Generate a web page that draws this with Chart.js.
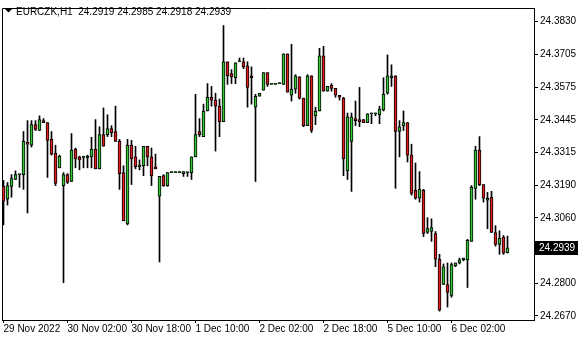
<!DOCTYPE html>
<html>
<head>
<meta charset="utf-8">
<script src="https://cdn.jsdelivr.net/npm/chart.js@4.4.0/dist/chart.umd.min.js"></script>
<style>
  html, body { margin: 0; padding: 0; background: #fff; }
  #chart { display: block; }
</style>
</head>
<body>
<canvas id="chart" width="580" height="340"></canvas>
<script>
// EURCZK H1, 127 hourly bars from 29 Nov 2022 10:00
const symbol = 'EURCZK,H1';

const opens = [
  24.3181, 24.3130, 24.3181, 24.3208, 24.3227, 24.3227, 24.3354, 24.3343, 24.3424, 24.3401,
  24.3440, 24.3432, 24.3366, 24.3312, 24.3254, 24.3184, 24.3227, 24.3200, 24.3328, 24.3297,
  24.3295, 24.3293, 24.3297, 24.3328, 24.3250, 24.3385, 24.3385, 24.3409, 24.3397, 24.3358,
  24.3235, 24.3033, 24.3343, 24.3297, 24.3258, 24.3262, 24.3339, 24.3297, 24.3258, 24.3142,
  24.3223, 24.3184, 24.3235, 24.3235, 24.3235, 24.3231, 24.3235, 24.3235, 24.3297, 24.3397,
  24.3377, 24.3478, 24.3532, 24.3521, 24.3497, 24.3436, 24.3672, 24.3625, 24.3609, 24.3672,
  24.3672, 24.3656, 24.3617, 24.3493, 24.3536, 24.3560, 24.3629, 24.3583, 24.3583, 24.3586,
  24.3583, 24.3703, 24.3540, 24.3564, 24.3613, 24.3529, 24.3420, 24.3617, 24.3459, 24.3478,
  24.3695, 24.3556, 24.3579, 24.3567, 24.3540, 24.3529, 24.3242, 24.3358, 24.3448, 24.3444,
  24.3444, 24.3432, 24.3467, 24.3467, 24.3463, 24.3482, 24.3548, 24.3609, 24.3617, 24.3397,
  24.3420, 24.3432, 24.3304, 24.3165, 24.3134, 24.3165, 24.2999, 24.3003, 24.2995, 24.2894,
  24.2794, 24.2794, 24.2751, 24.2868, 24.2879, 24.2891, 24.2891, 24.2964, 24.3173, 24.3324,
  24.3188, 24.3126, 24.3138, 24.2999, 24.2952, 24.2980, 24.2919
];
const highs = [
  24.3204, 24.3196, 24.3227, 24.3242, 24.3227, 24.3397, 24.3440, 24.3440, 24.3440, 24.3459,
  24.3448, 24.3432, 24.3397, 24.3343, 24.3304, 24.3235, 24.3231, 24.3389, 24.3332, 24.3300,
  24.3300, 24.3304, 24.3374, 24.3444, 24.3416, 24.3490, 24.3463, 24.3420, 24.3497, 24.3366,
  24.3262, 24.3366, 24.3362, 24.3339, 24.3285, 24.3339, 24.3339, 24.3332, 24.3308, 24.3220,
  24.3227, 24.3235, 24.3235, 24.3235, 24.3235, 24.3239, 24.3235, 24.3297, 24.3544, 24.3448,
  24.3505, 24.3586, 24.3575, 24.3548, 24.3525, 24.3815, 24.3672, 24.3641, 24.3668, 24.3687,
  24.3687, 24.3672, 24.3652, 24.3544, 24.3548, 24.3629, 24.3629, 24.3583, 24.3583, 24.3586,
  24.3703, 24.3703, 24.3741, 24.3621, 24.3613, 24.3529, 24.3621, 24.3617, 24.3493, 24.3725,
  24.3733, 24.3575, 24.3586, 24.3567, 24.3540, 24.3532, 24.3470, 24.3470, 24.3517, 24.3571,
  24.3444, 24.3467, 24.3470, 24.3470, 24.3497, 24.3609, 24.3699, 24.3660, 24.3617, 24.3440,
  24.3478, 24.3432, 24.3347, 24.3273, 24.3239, 24.3169, 24.3057, 24.3053, 24.3003, 24.2913,
  24.2875, 24.2879, 24.2879, 24.2879, 24.2898, 24.2898, 24.2972, 24.3184, 24.3339, 24.3377,
  24.3188, 24.3157, 24.3161, 24.3026, 24.3006, 24.2987, 24.2985
];
const lows = [
  24.3029, 24.3107, 24.3138, 24.3208, 24.3177, 24.3169, 24.3076, 24.3336, 24.3401, 24.3401,
  24.3432, 24.3216, 24.3304, 24.3184, 24.3254, 24.2801, 24.3192, 24.3200, 24.3254, 24.3246,
  24.3254, 24.3254, 24.3254, 24.3250, 24.3250, 24.3339, 24.3377, 24.3377, 24.3358, 24.3169,
  24.3045, 24.3029, 24.3188, 24.3250, 24.3246, 24.3223, 24.3262, 24.3184, 24.3250, 24.2883,
  24.3181, 24.3181, 24.3235, 24.3235, 24.3235, 24.3220, 24.3220, 24.3208, 24.3297, 24.3377,
  24.3377, 24.3478, 24.3497, 24.3320, 24.3377, 24.3436, 24.3583, 24.3586, 24.3586, 24.3672,
  24.3645, 24.3493, 24.3505, 24.3200, 24.3536, 24.3560, 24.3575, 24.3583, 24.3583, 24.3586,
  24.3583, 24.3552, 24.3517, 24.3548, 24.3525, 24.3416, 24.3420, 24.3393, 24.3424, 24.3478,
  24.3556, 24.3556, 24.3556, 24.3532, 24.3521, 24.3223, 24.3208, 24.3161, 24.3420, 24.3416,
  24.3432, 24.3432, 24.3428, 24.3459, 24.3428, 24.3478, 24.3544, 24.3575, 24.3173, 24.3297,
  24.3401, 24.3277, 24.3146, 24.3130, 24.3119, 24.2983, 24.2995, 24.2964, 24.2864, 24.2689,
  24.2794, 24.2705, 24.2744, 24.2864, 24.2875, 24.2887, 24.2782, 24.2964, 24.3130, 24.3184,
  24.3119, 24.3014, 24.2999, 24.2945, 24.2913, 24.2913, 24.2918
];
const closes = [
  24.3122, 24.3184, 24.3212, 24.3227, 24.3227, 24.3358, 24.3347, 24.3424, 24.3405, 24.3444,
  24.3432, 24.3362, 24.3308, 24.3192, 24.3300, 24.3227, 24.3196, 24.3324, 24.3289, 24.3285,
  24.3295, 24.3300, 24.3328, 24.3250, 24.3385, 24.3339, 24.3409, 24.3393, 24.3358, 24.3231,
  24.3045, 24.3343, 24.3289, 24.3258, 24.3265, 24.3339, 24.3297, 24.3223, 24.3250, 24.3220,
  24.3184, 24.3235, 24.3235, 24.3235, 24.3235, 24.3239, 24.3235, 24.3297, 24.3385, 24.3385,
  24.3478, 24.3532, 24.3521, 24.3497, 24.3436, 24.3672, 24.3617, 24.3613, 24.3668, 24.3672,
  24.3652, 24.3571, 24.3609, 24.3536, 24.3548, 24.3629, 24.3583, 24.3583, 24.3583, 24.3586,
  24.3703, 24.3552, 24.3564, 24.3617, 24.3529, 24.3420, 24.3617, 24.3401, 24.3478, 24.3695,
  24.3556, 24.3575, 24.3567, 24.3540, 24.3532, 24.3289, 24.3455, 24.3455, 24.3440, 24.3436,
  24.3432, 24.3467, 24.3467, 24.3467, 24.3486, 24.3544, 24.3617, 24.3617, 24.3397, 24.3416,
  24.3432, 24.3304, 24.3153, 24.3134, 24.3169, 24.2995, 24.3014, 24.3018, 24.2894, 24.2693,
  24.2864, 24.2763, 24.2872, 24.2879, 24.2891, 24.2898, 24.2968, 24.3177, 24.3324, 24.3188,
  24.3134, 24.3134, 24.2999, 24.2952, 24.2976, 24.2917, 24.2939
];

// time axis: a label every 16 bars
const xTickIdx = [0, 16, 32, 48, 64, 80, 96, 112];
const xTickLabels = ['29 Nov 2022', '30 Nov 02:00', '30 Nov 18:00', '1 Dec 10:00',
                     '2 Dec 02:00', '2 Dec 18:00', '5 Dec 10:00', '6 Dec 02:00'];

// price axis
const yTickValues = [24.2670, 24.27989, 24.29278, 24.30567, 24.31856,
                     24.33144, 24.34433, 24.35722, 24.37011, 24.3830];
const yTickLabels = ['24.2670', '24.2800', '24.2930', '24.3060', '24.3190',
                     '24.3315', '24.3445', '24.3575', '24.3705', '24.3830'];

const upColor = '#32c832';
const downColor = '#e01e1e';
const FONT = "'Liberation Sans', Arial, sans-serif";
const FSIZE = 10;

const bodies = opens.map((o, i) => ({ x: i, y: [o, closes[i]] }));
const wicks = lows.map((l, i) => ({ x: i, y: [l, highs[i]] }));
const bodyColors = opens.map((o, i) => closes[i] >= o ? upColor : downColor);

// frame, symbol header and last price box, MT4 style
const mtDecor = {
  id: 'mtDecor',
  beforeDatasetsDraw(chart) {
    const ctx = chart.ctx, a = chart.chartArea;
    ctx.save();
    ctx.strokeStyle = '#000';
    ctx.lineWidth = 1;
    ctx.beginPath();
    ctx.moveTo(a.left + 0.5, a.bottom);
    ctx.lineTo(a.left + 0.5, a.top + 0.5);
    ctx.lineTo(a.right, a.top + 0.5);
    ctx.stroke();
    ctx.restore();
  },
  afterDraw(chart) {
    const ctx = chart.ctx, a = chart.chartArea, ys = chart.scales.y;
    const n = closes.length - 1;
    ctx.save();
    // header
    ctx.fillStyle = '#000';
    ctx.beginPath();
    ctx.moveTo(5, 9);
    ctx.lineTo(12, 9);
    ctx.lineTo(8.5, 12.5);
    ctx.closePath();
    ctx.fill();
    ctx.font = FSIZE + 'px ' + FONT;
    ctx.textBaseline = 'alphabetic';
    ctx.textAlign = 'left';
    const head = symbol + '  ' + [opens[n], highs[n], lows[n], closes[n]].map(v => v.toFixed(4)).join(' ');
    ctx.fillText(head, 16, 15);
    // last price
    const py = Math.round(ys.getPixelForValue(closes[n]));
    ctx.fillRect(a.right + 1, py - 7, 43, 14);
    ctx.fillStyle = '#fff';
    ctx.textBaseline = 'middle';
    ctx.fillText(closes[n].toFixed(4), a.right + 5, py + 0.5);
    ctx.restore();
  }
};

new Chart(document.getElementById('chart'), {
  type: 'bar',
  data: {
    datasets: [
      {
        label: 'body',
        data: bodies,
        grouped: false,
        barThickness: 3,
        minBarLength: 1,
        backgroundColor: bodyColors,
        borderColor: '#000',
        borderWidth: 1,
        borderSkipped: false
      },
      {
        label: 'wick',
        data: wicks,
        grouped: false,
        barThickness: 1,
        minBarLength: 1,
        backgroundColor: '#000',
        borderWidth: 0
      }
    ]
  },
  options: {
    responsive: false,
    animation: false,
    events: [],
    layout: { padding: { left: 2, top: 2, right: 0, bottom: 0 } },
    plugins: { legend: { display: false }, tooltip: { enabled: false } },
    scales: {
      x: {
        type: 'linear',
        min: -0.375,
        max: 132.625,
        offset: false,
        bounds: 'data',
        afterBuildTicks: s => { s.ticks = xTickIdx.map(v => ({ value: v })); },
        afterFit: s => { s.height = 20; },
        grid: { offset: false, drawOnChartArea: false, drawTicks: true, tickLength: 3, color: '#000' },
        border: { display: true, color: '#000', width: 1 },
        ticks: {
          autoSkip: false, maxRotation: 0, align: 'start', padding: 0, color: '#000',
          font: { family: FONT, size: FSIZE },
          callback: v => xTickLabels[xTickIdx.indexOf(v)]
        }
      },
      y: {
        position: 'right',
        min: 24.2654,
        max: 24.3884,
        stacked: false,
        bounds: 'data',
        afterBuildTicks: s => { s.ticks = yTickValues.map(v => ({ value: v })); },
        afterFit: s => { s.width = 46; },
        grid: { drawOnChartArea: false, drawTicks: true, tickLength: 4, color: '#000' },
        border: { display: true, color: '#000', width: 1 },
        ticks: {
          autoSkip: false, padding: 2, color: '#000',
          font: { family: FONT, size: FSIZE },
          callback: v => yTickLabels[yTickValues.indexOf(v)]
        }
      }
    }
  },
  plugins: [mtDecor]
});
</script>
</body>
</html>
